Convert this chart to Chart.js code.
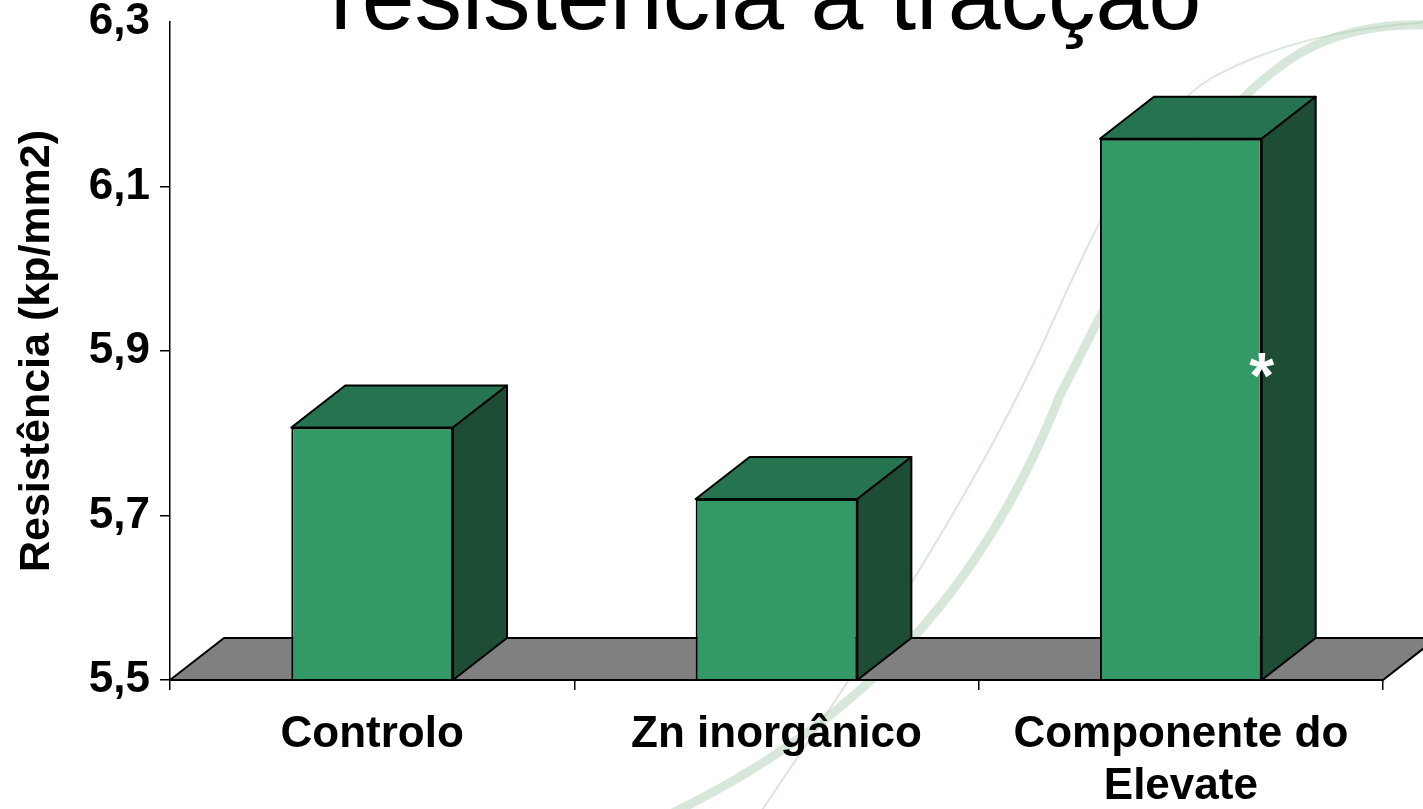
<!DOCTYPE html>
<html lang="pt">
<head>
<meta charset="utf-8">
<title>Resistência à tracção</title>
<script src="https://cdn.jsdelivr.net/npm/chart.js@4.4.1/dist/chart.umd.min.js"></script>
<style>
    html, body { margin: 0; padding: 0; background: #fff; }
    #wrap { position: relative; width: 1423px; height: 809px; overflow: hidden; }
</style>
</head>
<body>
<div id="wrap"><canvas id="chart"></canvas></div>
<script>
// Chart data
const chartTitle = 'resistência à tracção';
const axisTitle = 'Resistência (kp/mm2)';
const categories = ['Controlo', 'Zn inorgânico', ['Componente do', 'Elevate']];
const resistance = [5.807, 5.72, 6.158];
const significance = ['', '', '*'];
const yMin = 5.5;
const yMax = 6.3;
const yStep = 0.2;

// Style
const FONT = '"Liberation Sans", Arial, sans-serif';
const FRONT = '#339966';
const TOP = '#267350';
const SIDE = '#1d4d35';
const FLOOR = '#808080';
const DEPTH = { dx: 54, dy: -42 };
const EDGE = 2;

const face = (ctx, pts, fill) => {
    ctx.beginPath();
    ctx.moveTo(pts[0][0], pts[0][1]);
    pts.slice(1).forEach(p => ctx.lineTo(p[0], p[1]));
    ctx.closePath();
    ctx.fillStyle = fill;
    ctx.fill();
    ctx.stroke();
};

// faint background swoosh of the slide
const backdrop = {
    id: 'backdrop',
    beforeDraw(chart) {
        const ctx = chart.ctx;
        ctx.save();
        ctx.lineCap = 'round';
        ctx.strokeStyle = 'rgba(150, 195, 160, 0.38)';
        ctx.lineWidth = 9;
        ctx.beginPath();
        ctx.moveTo(560, 860);
        ctx.bezierCurveTo(840, 760, 980, 600, 1060, 395);
        ctx.bezierCurveTo(1130, 260, 1190, 120, 1300, 53);
        ctx.quadraticCurveTo(1355, 22, 1430, 25);
        ctx.stroke();

        ctx.strokeStyle = 'rgba(175, 200, 180, 0.45)';
        ctx.lineWidth = 2;
        ctx.beginPath();
        ctx.moveTo(735, 850);
        ctx.bezierCurveTo(850, 680, 960, 520, 1040, 350);
        ctx.bezierCurveTo(1090, 240, 1140, 120, 1213, 77);
        ctx.quadraticCurveTo(1300, 30, 1430, 22);
        ctx.stroke();
        ctx.restore();
    }
};

// grey floor + top and side faces of each bar
const bars3d = {
    id: 'bars3d',
    beforeDatasetsDraw(chart) {
        const { ctx, chartArea } = chart;
        const y0 = chart.scales.y.getPixelForValue(yMin);
        ctx.save();
        ctx.strokeStyle = '#000';
        ctx.lineWidth = EDGE;
        ctx.lineJoin = 'round';
        face(ctx, [
            [chartArea.left, y0],
            [chartArea.left + DEPTH.dx, y0 + DEPTH.dy],
            [chartArea.right + DEPTH.dx, y0 + DEPTH.dy],
            [chartArea.right, y0]
        ], FLOOR);
        ctx.restore();
    },
    afterDatasetsDraw(chart) {
        const ctx = chart.ctx;
        const { dx, dy } = DEPTH;
        const base = chart.scales.y.getPixelForValue(yMin);
        ctx.save();
        ctx.strokeStyle = '#000';
        ctx.lineWidth = EDGE;
        ctx.lineJoin = 'round';
        chart.getDatasetMeta(0).data.forEach((bar, i) => {
            const { x, y, width } = bar.getProps(['x', 'y', 'width'], true);
            const l = x - width / 2;
            const r = x + width / 2;
            face(ctx, [[l, y], [l + dx, y + dy], [r + dx, y + dy], [r, y]], TOP);
            face(ctx, [[r, y], [r + dx, y + dy], [r + dx, base + dy], [r, base]], SIDE);
            ctx.beginPath();
            ctx.moveTo(l, base);
            ctx.lineTo(r, base);
            ctx.stroke();

            if (significance[i]) {
                ctx.fillStyle = '#fff';
                ctx.font = 'bold 64px ' + FONT;
                ctx.textAlign = 'center';
                ctx.textBaseline = 'alphabetic';
                ctx.fillText(significance[i], r, y + (base - y) * 0.42 + 32);
            }
        });
        ctx.restore();
    },
    afterDraw(chart) {
        const ctx = chart.ctx;
        ctx.save();
        ctx.fillStyle = '#000';
        ctx.font = '95px ' + FONT;
        ctx.textAlign = 'left';
        ctx.textBaseline = 'alphabetic';
        ctx.fillText(chartTitle, 330, 29);
        ctx.restore();
    }
};

new Chart(document.getElementById('chart'), {
    type: 'bar',
    data: {
        labels: categories,
        datasets: [{
            data: resistance,
            backgroundColor: FRONT,
            borderColor: '#000',
            borderWidth: EDGE,
            borderSkipped: false,
            barPercentage: 0.4,
            categoryPercentage: 1.0
        }]
    },
    options: {
        responsive: true,
        maintainAspectRatio: false,
        animation: false,
        devicePixelRatio: 1,
        layout: { padding: { top: 22, right: 40, left: 0, bottom: 0 } },
        plugins: {
            legend: { display: false },
            tooltip: { enabled: false }
        },
        scales: {
            x: {
                afterFit: s => {
                    s.height = 129;
                    s.paddingLeft = 0;
                    s.paddingRight = 0;
                },
                grid: {
                    offset: true,
                    drawOnChartArea: false,
                    drawTicks: true,
                    tickLength: 10,
                    color: '#000',
                    lineWidth: 1.5
                },
                border: { display: true, color: '#000', width: 1.5 },
                ticks: {
                    color: '#000',
                    padding: 18,
                    maxRotation: 0,
                    autoSkip: false,
                    font: { family: FONT, size: 44, weight: 'bold', lineHeight: 1.2 }
                }
            },
            y: {
                min: yMin,
                max: yMax,
                afterFit: s => {
                    s.width = 170;
                    s.paddingTop = 0;
                    s.paddingBottom = 0;
                },
                grid: {
                    drawOnChartArea: false,
                    drawTicks: true,
                    tickLength: 10,
                    color: c => (c.tick && c.tick.value >= yMax - 1e-9) ? 'rgba(0,0,0,0)' : '#000',
                    lineWidth: 1.5
                },
                border: { display: true, color: '#000', width: 1.5 },
                ticks: {
                    stepSize: yStep,
                    color: '#000',
                    padding: 10,
                    font: { family: FONT, size: 44, weight: 'bold' },
                    callback: v => v.toFixed(1).replace('.', ',')
                },
                title: {
                    display: true,
                    text: axisTitle,
                    color: '#000',
                    padding: { top: 11, bottom: 0 },
                    font: { family: FONT, size: 43, weight: 'bold' }
                }
            }
        }
    },
    plugins: [backdrop, bars3d]
});
</script>
</body>
</html>
